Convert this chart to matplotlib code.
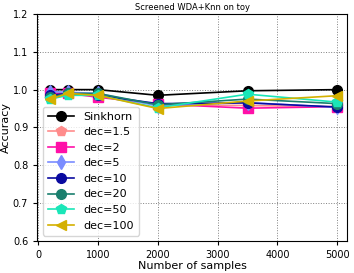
import numpy as np
import matplotlib.pyplot as plt

n_samples = [200, 500, 1000, 2000, 3500, 5000]

labels = ['Sinkhorn', 'dec=1.5', 'dec=2', 'dec=5', 'dec=10', 'dec=20', 'dec=50', 'dec=100']

acc_sinkhorn = [1.0, 1.0, 1.0, 0.985, 0.997, 1.0]
acc_dec1_5 = [0.99, 0.99, 0.985, 0.96, 0.958, 0.955]
acc_dec2 = [0.99, 0.99, 0.98, 0.962, 0.951, 0.955]
acc_dec5 = [0.995, 0.993, 0.99, 0.957, 0.966, 0.953]
acc_dec10 = [0.985, 0.99, 0.985, 0.963, 0.965, 0.954]
acc_dec20 = [0.98, 0.99, 0.99, 0.96, 0.975, 0.963]
acc_dec50 = [0.975, 0.985, 0.985, 0.952, 0.988, 0.967]
acc_dec100 = [0.975, 0.99, 0.985, 0.95, 0.97, 0.984]


def main():
    series = [acc_sinkhorn, acc_dec1_5, acc_dec2, acc_dec5,
              acc_dec10, acc_dec20, acc_dec50, acc_dec100]
    colors = ['black', '#ff8c8c', '#ff10a8', '#7a8cff',
              '#0a0aa0', '#1a7f6e', '#1ae6b8', '#d4b000']
    markers = ['o', 'p', 's', 'd', 'o', 'o', 'p', '<']

    fig, ax = plt.subplots(figsize=(3.54, 2.73), dpi=100)

    for y, lab, c, m in zip(series, labels, colors, markers):
        ax.plot(n_samples, y, color=c, marker=m, markersize=7, linewidth=1.2, label=lab)

    ax.set_xlim(-15, 5160)
    ax.set_ylim(0.6, 1.2)
    ax.set_xticks([0, 1000, 2000, 3000, 4000, 5000])
    ax.tick_params(labelsize=7, length=3)
    ax.set_xlabel('Number of samples', fontsize=8, labelpad=1)
    ax.set_ylabel('Accuracy', fontsize=8, labelpad=1)
    ax.set_title('Screened WDA+Knn on toy', fontsize=6, pad=3)
    ax.grid(True, linestyle=':', color='gray', linewidth=0.7)
    ax.legend(loc='lower left', fontsize=8, handlelength=2.4,
              borderpad=0.45, labelspacing=0.5)

    fig.subplots_adjust(left=0.105, right=0.98, top=0.949, bottom=0.117)
    fig.savefig('out.png')


if __name__ == '__main__':
    main()
